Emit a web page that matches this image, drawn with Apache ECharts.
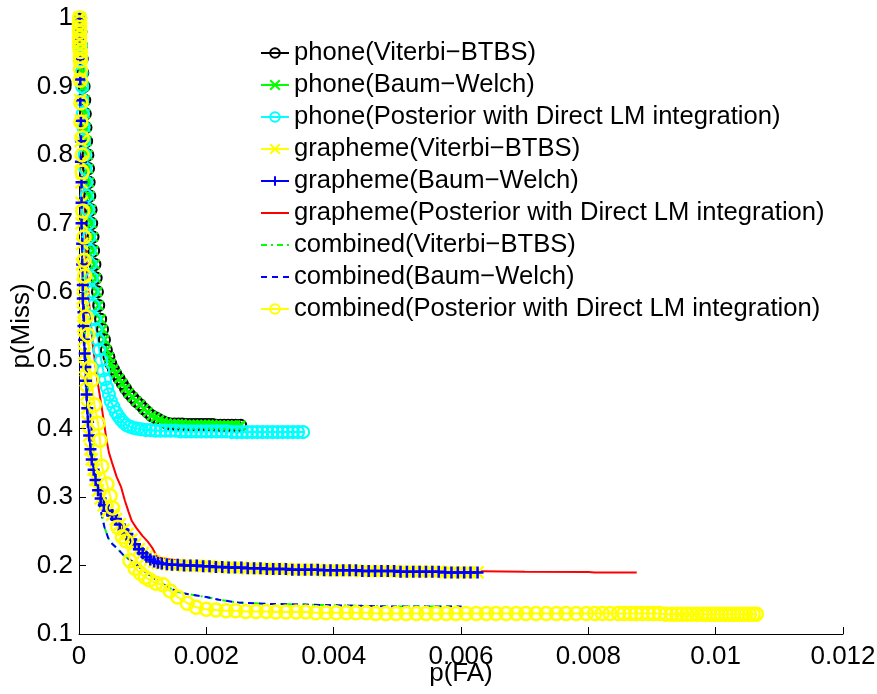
<!DOCTYPE html>
<html>
<head>
<meta charset="utf-8">
<script src="https://cdn.jsdelivr.net/npm/echarts@6/dist/echarts.min.js"></script>
<style>
  html, body { margin: 0; padding: 0; background: #fff; }
  #chart { width: 877px; height: 694px; }
</style>
</head>
<body>
<div id="chart"></div>
<script>
// DET curves: p(Miss) against p(FA) for phone, grapheme and combined systems.

const xTicks = [0, 0.002, 0.004, 0.006, 0.008, 0.01, 0.012];
const yTicks = [0.1, 0.2, 0.3, 0.4, 0.5, 0.6, 0.7, 0.8, 0.9, 1];

const seriesNames = [
  'phone(Viterbi−BTBS)',
  'phone(Baum−Welch)',
  'phone(Posterior with Direct LM integration)',
  'grapheme(Viterbi−BTBS)',
  'grapheme(Baum−Welch)',
  'grapheme(Posterior with Direct LM integration)',
  'combined(Viterbi−BTBS)',
  'combined(Baum−Welch)',
  'combined(Posterior with Direct LM integration)'
];

// phone, Viterbi-BTBS (Baum-Welch gives the same operating points)
const phoneViterbi = [
  [0.00002,1.0],[0.00003,0.98],[0.00004,0.96],[0.00005,0.94],[0.00006,0.92],[0.00008,0.90],
  [0.00009,0.88],[0.0001,0.86],[0.00011,0.84],[0.00012,0.82],[0.00014,0.80],[0.00015,0.78],
  [0.00016,0.76],[0.00017,0.74],[0.00019,0.72],[0.0002,0.70],[0.00022,0.68],[0.00023,0.66],
  [0.00025,0.64],[0.00027,0.62],[0.00029,0.60],[0.00031,0.58],[0.00034,0.56],[0.00037,0.545],
  [0.0004,0.53],[0.00043,0.515],[0.00047,0.505],[0.0005,0.495],[0.00054,0.487],[0.00058,0.48],
  [0.00063,0.473],[0.00068,0.466],[0.00073,0.459],[0.00078,0.452],[0.00084,0.446],[0.0009,0.44],
  [0.00096,0.435],[0.00102,0.429],[0.00108,0.424],[0.00114,0.419],[0.0012,0.416],[0.00126,0.413],
  [0.00132,0.41],[0.00138,0.408],[0.00144,0.407],[0.0015,0.407],[0.00156,0.407],[0.00162,0.407],
  [0.00168,0.406],[0.00174,0.406],[0.0018,0.406],[0.00186,0.406],[0.00192,0.406],[0.00198,0.406],
  [0.00204,0.406],[0.0021,0.406],[0.00216,0.405],[0.00222,0.405],[0.00228,0.405],[0.00234,0.405],
  [0.0024,0.405],[0.00246,0.405],[0.00254,0.405]
];
const phoneBaumWelch = phoneViterbi;

const phonePosterior = [
  [0.00002,1.0],[0.00002,0.98],[0.00003,0.96],[0.00003,0.94],[0.00004,0.92],[0.00005,0.90],
  [0.00005,0.88],[0.00006,0.86],[0.00007,0.84],[0.00008,0.82],[0.00009,0.80],[0.0001,0.78],
  [0.00011,0.76],[0.00012,0.74],[0.00014,0.72],[0.00015,0.70],[0.00016,0.68],[0.00017,0.66],
  [0.00018,0.64],[0.0002,0.62],[0.00021,0.60],[0.00023,0.58],[0.00025,0.56],[0.00027,0.545],
  [0.0003,0.53],[0.00032,0.515],[0.00035,0.50],[0.00038,0.485],[0.00041,0.472],[0.00044,0.46],
  [0.00047,0.45],[0.0005,0.44],[0.00054,0.432],[0.00058,0.424],[0.00062,0.418],[0.00066,0.413],
  [0.0007,0.409],[0.00075,0.405],[0.0008,0.403],[0.00086,0.401],[0.00092,0.40],[0.00098,0.399],
  [0.00105,0.398],[0.00112,0.398],[0.0012,0.397],[0.00128,0.397],[0.00136,0.397],[0.00144,0.397],
  [0.00152,0.397],[0.0016,0.396],[0.00168,0.396],[0.00176,0.396],[0.00184,0.396],[0.00192,0.396],
  [0.002,0.396],[0.00208,0.396],[0.00216,0.396],[0.00224,0.396],[0.00232,0.396],[0.0024,0.395],
  [0.00248,0.395],[0.00256,0.395],[0.00264,0.395],[0.00272,0.395],[0.0028,0.395],[0.00288,0.395],
  [0.00296,0.395],[0.00304,0.395],[0.00312,0.395],[0.0032,0.395],[0.00328,0.395],[0.00336,0.395],
  [0.00344,0.395],[0.00352,0.395]
];

// grapheme, Baum-Welch (Viterbi-BTBS lies on the same points)
const graphemeBaumWelch = [
  [0.00001,1.0],[0.00001,0.97],[0.00002,0.94],[0.00002,0.91],[0.00002,0.88],[0.00003,0.85],
  [0.00003,0.82],[0.00003,0.79],[0.00004,0.76],[0.00004,0.73],[0.00004,0.70],[0.00005,0.67],
  [0.00005,0.64],[0.00006,0.61],[0.00006,0.59],[0.00007,0.57],[0.00007,0.55],[0.00008,0.53],
  [0.00009,0.51],[0.0001,0.49],[0.00011,0.47],[0.00012,0.45],[0.00013,0.43],[0.00014,0.41],
  [0.00016,0.39],[0.00018,0.37],[0.0002,0.355],[0.00023,0.34],[0.00026,0.325],[0.0003,0.31],
  [0.00034,0.298],[0.00039,0.288],[0.00045,0.28],[0.00052,0.274],[0.00058,0.268],[0.00064,0.26],
  [0.0007,0.252],[0.00076,0.246],[0.00082,0.238],[0.00088,0.231],[0.00094,0.224],[0.001,0.218],
  [0.00106,0.213],[0.00112,0.209],[0.00118,0.206],[0.00124,0.204],[0.0013,0.203],[0.00138,0.202],
  [0.00146,0.201],[0.00155,0.201],[0.00165,0.2],[0.00175,0.2],[0.00185,0.2],[0.00195,0.199],
  [0.00205,0.199],[0.00215,0.198],[0.00225,0.198],[0.00235,0.197],[0.00245,0.197],[0.00255,0.197],
  [0.00265,0.196],[0.00275,0.196],[0.00285,0.196],[0.00295,0.195],[0.00305,0.195],[0.00315,0.195],
  [0.00325,0.195],[0.00335,0.194],[0.00345,0.194],[0.00355,0.194],[0.00365,0.194],[0.00375,0.194],
  [0.00385,0.193],[0.00395,0.193],[0.00405,0.193],[0.00415,0.193],[0.00425,0.193],[0.00435,0.193],
  [0.00445,0.192],[0.00455,0.192],[0.00465,0.192],[0.00475,0.192],[0.00485,0.192],[0.00495,0.192],
  [0.00505,0.191],[0.00515,0.191],[0.00525,0.191],[0.00535,0.191],[0.00545,0.191],[0.00555,0.191],
  [0.00565,0.191],[0.00575,0.19],[0.00585,0.19],[0.00595,0.19],[0.00605,0.19],[0.00615,0.19],
  [0.00626,0.19]
];
const graphemeViterbi = graphemeBaumWelch;

const graphemePosterior = [
  [0.00001,1.0],[0.00003,0.9],[0.00006,0.8],[0.00009,0.7],[0.00013,0.62],[0.00017,0.57],
  [0.00022,0.52],[0.00029,0.47],[0.00037,0.423],[0.00043,0.385],[0.00047,0.365],[0.00052,0.35],
  [0.00059,0.33],[0.00066,0.315],[0.00072,0.295],[0.00078,0.278],[0.00083,0.265],[0.0009,0.255],
  [0.001,0.243],[0.00108,0.235],[0.00115,0.226],[0.00123,0.212],[0.00143,0.209],[0.0017,0.206],
  [0.002,0.203],[0.0025,0.2],[0.003,0.197],[0.0035,0.195],[0.004,0.194],[0.005,0.193],
  [0.006,0.192],[0.007,0.191],[0.008,0.1905],[0.0081,0.19],[0.00876,0.19]
];

// combined, Baum-Welch (Viterbi-BTBS lies on the same points)
const combinedBaumWelch = [
  [0.00001,1.0],[0.00002,0.9],[0.00003,0.8],[0.00005,0.7],[0.00007,0.6],[0.0001,0.52],
  [0.00014,0.46],[0.00019,0.41],[0.00022,0.37],[0.00025,0.34],[0.00028,0.315],[0.00033,0.285],
  [0.0004,0.256],[0.00046,0.24],[0.00052,0.232],[0.0006,0.225],[0.0007,0.215],[0.00088,0.203],
  [0.00105,0.19],[0.0012,0.18],[0.0014,0.168],[0.0016,0.16],[0.0018,0.157],[0.002,0.154],
  [0.0022,0.15],[0.0025,0.146],[0.003,0.144],[0.0035,0.143],[0.004,0.142],[0.0045,0.141],
  [0.005,0.14],[0.0055,0.14],[0.00601,0.14]
];
const combinedViterbi = combinedBaumWelch;

const combinedPosterior = [
  [0.00001,1.0],[0.00001,0.993],[0.00001,0.986],[0.00001,0.979],[0.00001,0.972],[0.00001,0.965],
  [0.00001,0.958],[0.00002,0.951],[0.00002,0.944],[0.00002,0.937],[0.00002,0.925],[0.00002,0.909],
  [0.00003,0.876],[0.00003,0.848],[0.00005,0.825],[0.00005,0.80],[0.00005,0.775],[0.00006,0.718],
  [0.00008,0.68],[0.00008,0.646],[0.00009,0.623],[0.00011,0.563],[0.00014,0.537],[0.00017,0.489],
  [0.0002,0.471],[0.00024,0.435],[0.0003,0.408],[0.00033,0.383],[0.00036,0.345],[0.00044,0.319],
  [0.00049,0.302],[0.00053,0.284],[0.00061,0.256],[0.00068,0.242],[0.00074,0.236],[0.0008,0.207],
  [0.00088,0.196],[0.00096,0.189],[0.00104,0.183],[0.00111,0.179],[0.00121,0.174],[0.00132,0.172],
  [0.00143,0.163],[0.00155,0.154],[0.0017,0.145],[0.00184,0.139],[0.002,0.136],[0.00215,0.135],
  [0.00231,0.134],[0.00246,0.134],[0.00262,0.133],[0.00278,0.133],[0.00294,0.133],[0.00309,0.132],
  [0.00325,0.132],[0.00341,0.132],[0.00356,0.132],[0.00372,0.131],[0.00388,0.131],[0.00404,0.131],
  [0.0042,0.131],[0.00435,0.131],[0.00451,0.131],[0.00466,0.13],[0.00482,0.13],[0.00498,0.13],
  [0.00514,0.13],[0.0053,0.13],[0.00545,0.13],[0.00561,0.13],[0.00577,0.13],[0.00592,0.13],
  [0.00608,0.13],[0.00624,0.13],[0.0064,0.13],[0.00655,0.13],[0.00671,0.13],[0.00687,0.13],
  [0.00702,0.13],[0.00718,0.13],[0.00734,0.13],[0.0075,0.13],[0.00765,0.13],[0.00781,0.13],
  [0.00797,0.13],[0.0081,0.13],[0.00822,0.13],[0.00834,0.13],[0.00847,0.13],[0.00856,0.13],
  [0.00866,0.13],[0.00875,0.13],[0.00884,0.13],[0.00894,0.13],[0.00903,0.13],[0.00912,0.13],
  [0.00922,0.129],[0.00931,0.129],[0.00939,0.129],[0.00947,0.129],[0.00955,0.129],[0.00962,0.129],
  [0.0097,0.129],[0.00978,0.129],[0.00984,0.129],[0.0099,0.129],[0.00997,0.129],[0.01003,0.129],
  [0.01009,0.129],[0.01016,0.129],[0.01022,0.129],[0.01028,0.129],[0.01035,0.129],[0.01041,0.129],
  [0.01047,0.129],[0.01053,0.129],[0.01059,0.129],[0.01064,0.129]
];

const FONT = '"Liberation Sans", Arial, Helvetica, sans-serif';
const crossPath = 'path://M0,0L10,10M10,0L0,10';
const plusPath = 'path://M5,0L5,10M0,5L10,5';

function markerSeries(name, data, color, symbol, size, borderWidth) {
  return {
    name: name,
    type: 'line',
    data: data,
    symbol: symbol,
    symbolSize: size,
    showAllSymbol: true,
    clip: false,
    lineStyle: { color: color, width: 2, type: 'solid' },
    itemStyle: { color: 'rgba(0,0,0,0)', borderColor: color, borderWidth: borderWidth },
    emphasis: { disabled: true }
  };
}

// Lines without markers: the item colour is transparent so the legend shows only the line.
function plainSeries(name, data, color, lineType) {
  return {
    name: name,
    type: 'line',
    data: data,
    symbol: 'none',
    showSymbol: false,
    clip: false,
    lineStyle: { color: color, width: 2, type: lineType },
    itemStyle: { color: 'rgba(0,0,0,0)', borderColor: 'rgba(0,0,0,0)', borderWidth: 0 },
    emphasis: { disabled: true }
  };
}

const series = [
  markerSeries(seriesNames[0], phoneViterbi, '#000000', 'circle', 11, 2),
  markerSeries(seriesNames[1], phoneBaumWelch, '#00ff00', crossPath, 9, 2.5),
  markerSeries(seriesNames[2], phonePosterior, '#00ffff', 'circle', 12, 2.2),
  markerSeries(seriesNames[3], graphemeViterbi, '#ffff00', crossPath, 12, 2.5),
  markerSeries(seriesNames[4], graphemeBaumWelch, '#0000ff', plusPath, 12, 2.5),
  plainSeries(seriesNames[5], graphemePosterior, '#ff0000', 'solid'),
  plainSeries(seriesNames[6], combinedViterbi, '#00ff00', [6, 4, 2, 4]),
  plainSeries(seriesNames[7], combinedBaumWelch, '#0000ff', [6, 5]),
  markerSeries(seriesNames[8], combinedPosterior, '#ffff00', 'circle', 13, 2.5)
];

const chart = echarts.init(document.getElementById('chart'), null, { renderer: 'canvas' });
chart.setOption({
  animation: false,
  backgroundColor: '#ffffff',
  grid: {
    left: 79, right: 34, top: 18, bottom: 60,
    containLabel: false,
    outerBoundsMode: 'none'
  },
  legend: {
    orient: 'vertical',
    left: 255,
    top: 32,
    itemWidth: 28,
    itemHeight: 12,
    itemGap: 0,
    selectedMode: false,
    data: seriesNames,
    textStyle: { fontFamily: FONT, fontSize: 25.6, color: '#000', lineHeight: 32 }
  },
  xAxis: {
    type: 'value',
    min: xTicks[0],
    max: xTicks[xTicks.length - 1],
    interval: xTicks[1] - xTicks[0],
    name: 'p(FA)',
    nameLocation: 'middle',
    nameGap: 27,
    nameMoveOverlap: false,
    nameTextStyle: { fontFamily: FONT, fontSize: 26, color: '#000' },
    axisLine: { show: true, onZero: false, lineStyle: { color: '#000', width: 1 } },
    axisTick: { show: true, inside: true, length: 7, lineStyle: { color: '#000' } },
    axisLabel: {
      fontFamily: FONT, fontSize: 26, color: '#000', margin: 10,
      formatter: v => String(+v.toFixed(3))
    },
    splitLine: { show: false }
  },
  yAxis: {
    type: 'value',
    min: yTicks[0],
    max: yTicks[yTicks.length - 1],
    interval: 0.1,
    name: 'p(Miss)',
    nameLocation: 'middle',
    nameGap: 44,
    nameRotate: 90,
    nameMoveOverlap: false,
    nameTextStyle: { fontFamily: FONT, fontSize: 26, color: '#000' },
    axisLine: { show: true, onZero: false, lineStyle: { color: '#000', width: 1 } },
    axisTick: { show: true, inside: true, length: 7, lineStyle: { color: '#000' } },
    axisLabel: {
      fontFamily: FONT, fontSize: 26, color: '#000', margin: 6,
      formatter: v => String(+v.toFixed(1))
    },
    splitLine: { show: false }
  },
  series: series
});
</script>
</body>
</html>
